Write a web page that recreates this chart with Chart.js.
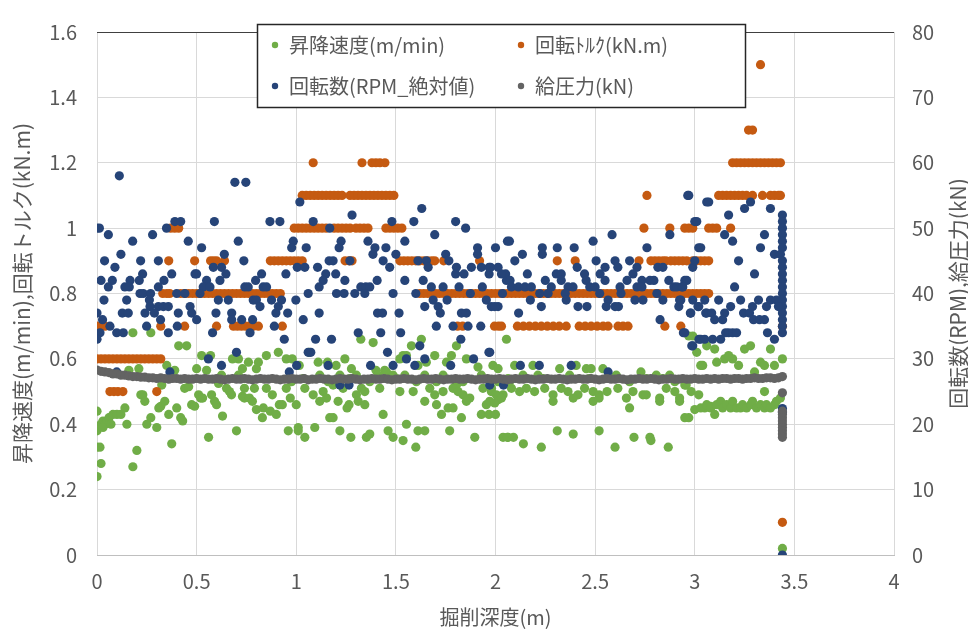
<!DOCTYPE html>
<html lang="ja">
<head>
<meta charset="utf-8">
<title>掘削深度と施工データ</title>
<script src="https://cdn.jsdelivr.net/npm/chart.js@4.4.1/dist/chart.umd.min.js"></script>
<style>
  html, body { margin: 0; padding: 0; background: #fff; }
  #wrap { width: 968px; height: 634px; position: relative; }
</style>
</head>
<body>
<div id="wrap"><canvas id="chart"></canvas></div>
<script>
const FONT = "'Noto Sans CJK JP', 'Noto Sans', sans-serif";
const TEXT = '#595959';

const seriesNames = ['昇降速度(m/min)', '回転ﾄﾙｸ(kN.m)', '回転数(RPM_絶対値)', '給圧力(kN)'];
const seriesColors = ['#70AD47', '#C55A11', '#264478', '#636363'];
const rightTitle = '回転数(RPM),給圧力(kN)';

const xTickLabels = ['0', '0.5', '1', '1.5', '2', '2.5', '3', '3.5', '4'];
const leftTickLabels = ['0', '0.2', '0.4', '0.6', '0.8', '1', '1.2', '1.4', '1.6'];
const rightTickLabels = ['0', '10', '20', '30', '40', '50', '60', '70', '80'];

// [depth (m), m/min]
const speed = [
  [0.00,0.44],[0.00,0.38],[0.00,0.33],[0.015,0.33],[0.02,0.28],[0.00,0.24],
  [0.02,0.40],[0.03,0.41],[0.04,0.40],[0.05,0.41],[0.06,0.42],[0.03,0.39],[0.07,0.40],[0.08,0.43],
  [0.10,0.43],[0.12,0.43],[0.14,0.45],[0.15,0.40],[0.16,0.565],[0.18,0.68],[0.18,0.27],[0.20,0.32],
  [0.21,0.57],[0.22,0.49],[0.23,0.49],[0.24,0.47],[0.25,0.40],[0.27,0.68],[0.27,0.42],[0.30,0.39],
  [0.31,0.45],[0.32,0.455],[0.325,0.52],[0.34,0.47],[0.35,0.58],[0.36,0.43],[0.375,0.34],[0.39,0.565],
  [0.40,0.45],[0.41,0.64],[0.42,0.42],[0.43,0.41],[0.44,0.51],[0.45,0.64],[0.46,0.515],[0.475,0.46],
  [0.49,0.455],[0.50,0.57],[0.51,0.49],[0.52,0.48],[0.525,0.61],[0.53,0.48],[0.55,0.565],[0.56,0.36],
  [0.57,0.61],[0.575,0.49],[0.59,0.47],[0.60,0.46],[0.61,0.525],[0.625,0.55],[0.63,0.425],[0.65,0.51],
  [0.665,0.50],[0.675,0.49],[0.68,0.60],[0.70,0.38],[0.71,0.60],[0.71,0.55],[0.73,0.57],[0.73,0.485],
  [0.74,0.51],[0.74,0.48],[0.76,0.59],[0.765,0.48],[0.78,0.47],[0.79,0.51],[0.80,0.57],[0.80,0.445],
  [0.81,0.59],[0.83,0.42],[0.835,0.45],[0.85,0.51],[0.85,0.61],[0.87,0.44],[0.88,0.49],[0.90,0.43],
  [0.91,0.62],[0.915,0.46],[0.93,0.46],[0.95,0.51],[0.95,0.60],[0.96,0.38],[0.97,0.48],[0.98,0.60],
  [1.00,0.46],[1.01,0.39],
  [1.015,0.58],[1.11,0.59],[1.157,0.59],[1.20,0.58],[1.244,0.60],[1.277,0.57],[1.40,0.565],[1.444,0.565],
  [1.52,0.60],[1.553,0.61],[1.611,0.58],[1.653,0.59],[1.754,0.59],[1.854,0.60],[1.912,0.575],[1.987,0.58],
  [1.065,0.62],[1.324,0.66],[1.386,0.65],[1.536,0.61],[1.578,0.64],[1.628,0.66],[1.695,0.61],[1.779,0.61],
  [1.804,0.64],[2.055,0.66],
  [0.976,0.53],[1.035,0.54],[1.118,0.55],[1.16,0.53],[1.219,0.55],[1.269,0.54],[1.302,0.55],[1.369,0.53],
  [1.411,0.55],[1.453,0.56],[1.486,0.55],[1.503,0.54],[1.545,0.55],[1.603,0.53],[1.645,0.55],[1.704,0.53],
  [1.737,0.55],[1.804,0.52],[1.837,0.53],[1.929,0.55],[2.013,0.53],[2.063,0.54],
  [1.043,0.51],[1.085,0.49],[1.135,0.50],[1.185,0.52],[1.235,0.51],[1.302,0.49],[1.327,0.51],[1.344,0.50],
  [1.419,0.51],[1.52,0.50],[1.587,0.50],[1.67,0.51],[1.695,0.49],[1.737,0.50],[1.787,0.51],[1.812,0.50],
  [1.837,0.49],[1.871,0.48],[1.937,0.51],[1.979,0.50],[2.038,0.49],
  [1.118,0.47],[1.152,0.48],[1.21,0.47],[1.265,0.46],[1.311,0.47],[1.344,0.46],[1.645,0.47],[1.704,0.46],
  [1.762,0.45],[1.854,0.47],[1.954,0.46],[1.971,0.47],[1.996,0.465],[2.013,0.475],
  [1.168,0.42],[1.185,0.42],[1.255,0.45],[1.436,0.43],[1.729,0.43],[1.787,0.45],[1.829,0.42],[1.929,0.43],
  [1.967,0.43],
  [1.01,0.38],[1.093,0.39],[1.219,0.38],[1.461,0.38],[1.553,0.40],[1.611,0.38],[1.645,0.38],[1.77,0.38],
  [1.043,0.36],[1.274,0.36],[1.352,0.36],[1.369,0.37],[1.486,0.36],[1.536,0.35],[1.896,0.36],[2.038,0.36],
  [2.063,0.36],[1.60,0.33],
  [2.99,0.67],[3.01,0.62],[3.04,0.58],
  [2.013,0.57],[2.096,0.58],[2.188,0.58],[2.322,0.57],[2.405,0.58],[2.456,0.57],[2.48,0.57],[2.539,0.57],
  [2.73,0.56],
  [2.07,0.53],[2.138,0.55],[2.213,0.55],[2.238,0.54],[2.372,0.55],[2.47,0.54],[2.556,0.54],[2.606,0.55],
  [2.673,0.53],[2.757,0.54],[2.807,0.55],[2.84,0.54],[2.874,0.55],[2.90,0.53],[2.957,0.52],
  [1.98,0.51],[2.004,0.49],[2.03,0.48],[2.08,0.51],[2.121,0.50],[2.155,0.51],[2.196,0.50],[2.247,0.51],
  [2.289,0.49],[2.33,0.51],[2.364,0.50],[2.414,0.49],[2.447,0.51],[2.49,0.50],[2.52,0.49],[2.56,0.50],
  [2.614,0.51],[2.657,0.48],[2.69,0.50],[2.74,0.49],[2.757,0.49],[2.824,0.48],[2.857,0.51],[2.90,0.50],
  [2.924,0.48],[2.982,0.50],
  [2.289,0.47],[2.39,0.48],[2.49,0.47],[2.52,0.48],[2.673,0.45],[2.824,0.47],[2.924,0.47],
  [2.00,0.43],[2.97,0.42],[3.00,0.445],[3.05,0.45],[3.08,0.455],
  [2.06,0.36],[2.09,0.36],[2.31,0.38],[2.39,0.37],[2.52,0.38],[2.695,0.36],[2.775,0.36],
  [2.14,0.34],[2.23,0.33],[2.60,0.33],[2.867,0.33],[2.78,0.35],
  [2.97,0.67],[3.06,0.64],[3.10,0.63],[3.25,0.63],[3.28,0.64],[3.38,0.63],
  [3.03,0.58],[3.11,0.59],[3.15,0.60],[3.17,0.61],[3.19,0.60],[3.22,0.58],[3.30,0.56],[3.33,0.59],
  [3.35,0.58],[3.40,0.58],[3.44,0.60],
  [3.35,0.50],[2.95,0.52],[3.02,0.49],
  [3.03,0.45],[3.06,0.46],[3.08,0.45],[3.11,0.46],[3.13,0.47],[3.14,0.45],[3.16,0.46],[3.18,0.45],
  [3.19,0.47],[3.21,0.45],[3.23,0.45],[3.24,0.46],[3.26,0.45],[3.28,0.46],[3.29,0.47],[3.31,0.45],
  [3.33,0.46],[3.35,0.45],[3.36,0.46],[3.38,0.45],[3.40,0.46],[3.41,0.47],[3.43,0.48],
  [2.95,0.42],[3.10,0.43],[3.44,0.02]
];

// [depth (m), kN.m]
const torque = [
  [0.00,0.6],[0.02,0.6],[0.04,0.6],[0.06,0.6],[0.08,0.6],[0.10,0.6],[0.12,0.6],[0.14,0.6],[0.16,0.6],
  [0.18,0.6],[0.20,0.6],[0.22,0.6],[0.24,0.6],[0.26,0.6],[0.28,0.6],[0.30,0.6],[0.32,0.6],
  [0.00,0.7],[0.02,0.7],[0.04,0.7],[0.32,0.7],[0.44,0.7],[0.60,0.7],[0.685,0.7],[0.705,0.7],[0.725,0.7],
  [0.745,0.7],[0.765,0.7],[0.785,0.7],[0.81,0.7],[0.93,0.7],
  [0.065,0.5],[0.085,0.5],[0.105,0.5],[0.13,0.5],[0.30,0.5],
  [0.33,0.8],[0.35,0.8],[0.365,0.8],[0.42,0.8],[0.44,0.8],[0.46,0.8],[0.48,0.8],[0.50,0.8],[0.52,0.8],
  [0.54,0.8],[0.56,0.8],[0.58,0.8],[0.60,0.8],[0.62,0.8],[0.64,0.8],[0.66,0.8],[0.68,0.8],[0.70,0.8],
  [0.72,0.8],[0.74,0.8],[0.76,0.8],[0.78,0.8],[0.80,0.8],[0.82,0.8],[0.84,0.8],[0.86,0.8],[0.88,0.8],
  [0.90,0.8],[0.92,0.8],
  [0.36,0.9],[0.49,0.9],[0.57,0.9],[0.585,0.9],[0.60,0.9],[0.64,0.9],[0.87,0.9],[0.89,0.9],[0.91,0.9],
  [0.93,0.9],[0.95,0.9],[0.97,0.9],[0.99,0.9],[1.01,0.9],[1.03,0.9],[1.245,0.9],[1.265,0.9],[1.28,0.9],
  [1.52,0.9],[1.54,0.9],[1.56,0.9],[1.58,0.9],[1.60,0.9],[1.62,0.9],[1.64,0.9],[1.66,0.9],[1.68,0.9],
  [1.695,0.9],[1.74,0.9],[1.92,0.9],[2.31,0.9],[2.40,0.9],[2.72,0.9],[2.78,0.9],[2.80,0.9],[2.82,0.9],
  [2.84,0.9],[2.855,0.9],[2.88,0.9],[2.90,0.9],[2.92,0.9],[2.94,0.9],[2.96,0.9],[2.99,0.9],[3.01,0.9],
  [3.03,0.9],[3.05,0.9],[3.07,0.9],
  [0.37,1.0],[0.39,1.0],[0.41,1.0],[0.99,1.0],[1.01,1.0],[1.03,1.0],[1.05,1.0],[1.07,1.0],[1.09,1.0],
  [1.11,1.0],[1.13,1.0],[1.15,1.0],[1.19,1.0],[1.21,1.0],[1.23,1.0],[1.25,1.0],[1.27,1.0],[1.30,1.0],
  [1.32,1.0],[1.34,1.0],[1.36,1.0],[1.45,1.0],[1.47,1.0],[1.49,1.0],[1.51,1.0],[1.53,1.0],[2.745,1.0],
  [2.875,1.0],[2.95,1.0],[2.97,1.0],[2.99,1.0],[3.07,1.0],[3.09,1.0],[3.11,1.0],[3.18,1.0],
  [1.03,1.1],[1.05,1.1],[1.07,1.1],[1.09,1.1],[1.11,1.1],[1.13,1.1],[1.15,1.1],[1.17,1.1],[1.19,1.1],
  [1.21,1.1],[1.23,1.1],[1.27,1.1],[1.29,1.1],[1.31,1.1],[1.33,1.1],[1.35,1.1],[1.37,1.1],[1.39,1.1],
  [1.41,1.1],[1.43,1.1],[1.45,1.1],[1.47,1.1],[1.49,1.1],[2.76,1.1],[3.12,1.1],[3.14,1.1],[3.16,1.1],
  [3.18,1.1],[3.20,1.1],[3.22,1.1],[3.24,1.1],[3.26,1.1],[3.29,1.1],[3.34,1.1],[3.38,1.1],[3.40,1.1],
  [3.42,1.1],[3.43,1.1],
  [1.085,1.2],[1.33,1.2],[1.38,1.2],[1.40,1.2],[1.42,1.2],[1.445,1.2],[3.19,1.2],[3.21,1.2],[3.23,1.2],
  [3.25,1.2],[3.27,1.2],[3.29,1.2],[3.31,1.2],[3.33,1.2],[3.35,1.2],[3.37,1.2],[3.39,1.2],[3.41,1.2],
  [3.43,1.2],
  [3.27,1.3],[3.29,1.3],[3.33,1.5],
  [1.62,0.8],[1.64,0.8],[1.66,0.8],[1.68,0.8],[1.70,0.8],[1.72,0.8],[1.74,0.8],[1.76,0.8],[1.78,0.8],
  [1.80,0.8],[1.82,0.8],[1.84,0.8],[1.86,0.8],[1.88,0.8],[1.90,0.8],[1.92,0.8],[1.94,0.8],[1.96,0.8],
  [1.98,0.8],[2.00,0.8],[2.02,0.8],[2.04,0.8],[2.06,0.8],[2.08,0.8],[2.10,0.8],[2.12,0.8],[2.14,0.8],
  [2.16,0.8],[2.18,0.8],[2.20,0.8],[2.22,0.8],[2.24,0.8],[2.26,0.8],[2.28,0.8],[2.30,0.8],[2.32,0.8],
  [2.34,0.8],[2.36,0.8],[2.38,0.8],[2.40,0.8],[2.42,0.8],[2.44,0.8],[2.46,0.8],[2.48,0.8],[2.50,0.8],
  [2.52,0.8],[2.54,0.8],[2.56,0.8],[2.58,0.8],[2.60,0.8],[2.62,0.8],[2.64,0.8],[2.66,0.8],[2.68,0.8],
  [2.70,0.8],[2.72,0.8],[2.74,0.8],[2.76,0.8],[2.78,0.8],[2.80,0.8],[2.82,0.8],[2.84,0.8],[2.86,0.8],
  [2.88,0.8],[2.90,0.8],[2.92,0.8],[2.95,0.8],[2.97,0.8],[2.99,0.8],[3.01,0.8],[3.03,0.8],[3.05,0.8],
  [3.07,0.8],
  [1.81,0.7],[1.835,0.7],[1.995,0.7],[2.015,0.7],[2.03,0.7],[2.11,0.7],[2.14,0.7],[2.17,0.7],[2.20,0.7],
  [2.23,0.7],[2.26,0.7],[2.29,0.7],[2.32,0.7],[2.355,0.7],[2.42,0.7],[2.45,0.7],[2.48,0.7],[2.51,0.7],
  [2.54,0.7],[2.565,0.7],[2.615,0.7],[2.64,0.7],[2.665,0.7],[2.85,0.7],[2.93,0.7],[3.44,0.7],
  [3.44,0.1]
];

// [depth (m), RPM]
const rpm = [
  [0.112,58],[0.692,57],[0.747,57],[0.0,50],[0.012,50],[0.057,49],[0.391,51],[0.42,51],[0.349,50],
  [0.589,51],[0.868,51],[0.918,51],[1.018,54],[0.179,48],[0.279,49],[0.458,48],[0.525,47],[0.709,48],
  [0.985,48],[0.977,47],[0.639,46],[0.12,46],
  [0.038,45],[0.219,45],[0.308,45],[0.737,45],
  [0.09,44],[0.584,44],[0.625,44],[1.005,44],[1.043,44],
  [0.229,43],[0.375,43],[0.492,43],[0.50,43],[0.647,43],[0.826,43],[0.948,43],
  [0.02,42],[0.077,42],[0.166,42],[0.212,42],[0.336,42],[0.55,42],[0.617,42],[0.796,42],
  [0.057,41],[0.14,41],[0.162,41],[0.308,41],[0.533,41],[0.567,41],[0.742,41],[0.759,41],[0.834,41],[0.851,41],
  [0.216,40],[0.232,40],[0.269,40],[0.40,40],[0.441,40],[0.517,40],[1.06,40],
  [0.035,39],[0.149,39],[0.263,39],[0.609,39],[0.659,39],[0.784,39],[0.80,39],[0.876,39],[0.926,39],[0.998,39],
  [0.266,38],[0.308,38],[0.333,38],[0.358,38],[0.467,38],[0.818,38],[0.91,38],
  [0.0,37],[0.127,37],[0.157,37],[0.241,37],[0.288,37],[0.408,37],[0.475,37],[0.597,37],[0.676,37],[0.898,37],[0.957,37],
  [0.028,36],[0.319,36],[0.50,36],[0.676,36],[0.726,36],[0.781,36],
  [0.065,35],[0.249,35],[0.403,35],[0.89,35],
  [0.015,34],[0.099,34],[0.132,34],[0.358,34],[0.58,34],[0.768,34],
  [0.0,33],[0.94,33],[1.06,31],[0.70,31],[0.559,30],[0.625,29],[1.002,29],[0.099,28],[0.366,28],[0.965,28],
  [1.63,53],[1.80,51],[1.085,51],[1.48,51],[1.59,51],[1.85,50],[1.28,52],[1.168,50],[1.695,49],
  [1.225,48],[1.36,48],[1.545,48],[2.06,48],
  [1.05,47],[1.215,47],[1.395,47],[1.45,47],[1.91,47],[2.00,47],
  [1.385,46],[1.50,46],[1.75,46],[1.91,46],
  [1.165,45],[1.185,45],[1.269,45],[1.436,45],[1.611,45],[1.653,45],[1.766,45],
  [1.107,44],[1.469,44],[1.662,44],[1.804,44],[1.879,44],[1.929,44],[1.968,44],[2.013,44],
  [1.148,43],[1.198,43],[1.80,43],[1.842,43],[1.968,43],[2.051,43],
  [1.135,42],[1.244,42],[1.406,42],[1.545,42],[1.637,42],[2.055,42],
  [1.115,41],[1.324,41],[1.349,41],[1.369,41],[1.678,41],[1.737,41],[1.817,41],[1.934,41],
  [1.202,40],[1.24,40],[1.294,40],[1.344,40],[1.486,40],[1.60,40],[1.874,40],[2.035,40],
  [1.687,39],[1.757,39],[1.954,39],
  [1.645,38],[1.712,38],[1.979,38],[2.013,38],
  [1.115,37],[1.408,37],[1.433,37],[1.516,37],[1.723,37],[1.829,37],[1.854,37],
  [1.035,36],[1.703,35],[1.787,35],[1.862,35],[1.926,35],
  [1.311,34],[1.424,34],[1.524,34],[1.097,33],[1.177,33],[1.826,33],[1.62,32],
  [1.073,31],[1.458,31],[1.967,31],[1.553,30],[1.645,30],[1.89,30],
  [1.16,29],[1.373,29],[1.486,29],[1.595,29],[1.775,29],[1.219,26],[1.265,26],[2.04,26],
  [2.965,55],[3.06,54],[3.0,51],[2.585,49],[2.875,49],[2.07,48],[2.49,48],
  [2.235,47],[2.31,47],[2.395,47],[2.76,47],[3.02,47],[2.135,46],[2.235,46],
  [2.097,45],[2.505,45],[2.60,45],[2.673,45],
  [1.975,44],[2.41,44],[2.55,44],[2.614,44],[2.71,44],[2.815,44],[2.84,44],[2.99,44],
  [2.03,43],[2.16,43],[2.305,43],[2.33,43],[2.447,43],[2.525,43],[2.69,43],
  [2.073,42],[2.25,42],[2.33,42],[2.455,42],[2.55,42],[2.66,42],[2.735,42],[2.775,42],[2.795,42],[2.87,42],[2.95,42],
  [2.08,41],[2.115,41],[2.148,41],[2.18,41],[2.28,41],[2.364,41],[2.389,41],[2.473,41],[2.50,41],[2.625,41],
  [2.71,41],[2.735,41],[2.895,41],[2.91,41],[2.935,41],
  [2.222,40],[2.264,40],[2.35,40],[2.523,40],[2.63,40],[2.81,40],
  [2.175,39],[2.355,39],[2.565,39],[2.70,39],[2.74,39],[2.84,39],[2.924,39],[2.99,39],
  [1.996,38],[2.23,38],[2.414,38],[2.459,38],[2.556,38],[2.60,38],[2.617,38],[2.92,38],[3.016,38],
  [2.116,37],[2.978,37],[3.06,37],[2.826,36],[2.943,34],[3.021,33],[2.985,32],[1.971,31],
  [2.125,29],[2.22,29],[2.38,29],[2.565,28],[1.971,26],
  [2.97,55],[3.07,54],[3.25,53],[3.28,54],[3.38,53],[3.44,52],[3.17,52],[3.01,51],[3.44,51],[3.44,50],
  [3.44,49],[3.15,49],[3.19,48],[3.35,49],[3.44,48],[3.03,47],[3.33,47],[3.44,47],[3.40,46],[3.43,46],
  [3.44,45],[3.44,44],[3.44,43],[3.44,42],[3.44,41],[3.44,40],[3.44,39],[3.44,38],[3.44,37],[3.44,36],
  [3.44,35],[3.44,34],
  [3.00,45],[3.22,45],[3.30,43],[2.96,42],[2.94,41],[3.20,41],
  [2.93,39],[3.05,39],[3.12,39],[3.23,39],[3.32,39],[3.38,39],[3.41,39],
  [3.02,38],[3.18,38],[3.29,38],[3.36,38],[3.42,38],
  [2.98,37],[3.055,37],[3.085,37],[3.15,37],[3.245,37],[3.275,37],
  [3.10,36],[3.14,36],[3.295,36],[3.325,36],[3.35,36],
  [2.95,34],[3.365,34],[3.155,34],[3.17,34],[3.19,34],[3.21,34],
  [3.40,33],[3.03,33],[3.05,33],[3.09,33],[3.13,33],[2.99,32],
  [3.44,22.4],[3.44,21.8],[3.44,0]
];

// [depth (m), kN]
const pressure = [
  [0.00,28.3],[0.02,28.1],[0.04,28.0],[0.06,27.9],[0.08,27.7],[0.10,27.7],[0.12,27.5],[0.14,27.5],
  [0.16,27.4],[0.18,27.3],[0.20,27.3],[0.22,27.2],[0.24,27.2],[0.26,27.1],[0.28,27.1],[0.30,27.0],
  [0.32,27.1],[0.34,27.0],[0.36,26.9],[0.38,27.0],[0.40,27.0],[0.42,26.9],[0.44,27.0],[0.46,26.9],
  [0.48,26.9],[0.50,27.0],[0.52,26.9],[0.54,27.0],[0.56,26.9],[0.58,26.9],[0.60,27.0],[0.62,26.9],
  [0.64,26.8],[0.66,26.9],[0.68,27.0],[0.70,26.9],[0.72,26.9],[0.74,27.0],[0.76,26.9],[0.78,26.8],
  [0.80,26.9],[0.82,27.0],[0.84,26.9],[0.86,26.9],[0.88,27.0],[0.90,26.9],[0.92,26.8],[0.94,26.9],
  [0.96,26.9],[0.98,27.0],[1.00,26.9],[1.02,26.9],[1.04,27.0],[1.06,26.8],[1.08,26.9],[1.10,26.9],
  [1.12,27.0],[1.14,26.9],[1.16,26.9],[1.18,26.8],[1.20,26.9],[1.22,27.0],[1.24,26.9],[1.26,26.9],
  [1.28,27.0],[1.30,26.9],[1.32,26.8],[1.34,26.9],[1.36,26.9],[1.38,27.0],[1.40,26.9],[1.42,26.9],
  [1.44,27.0],[1.46,26.9],[1.48,26.8],[1.50,26.9],[1.52,26.9],[1.54,27.0],[1.56,26.9],[1.58,26.9],
  [1.60,26.8],[1.62,26.9],[1.64,27.0],[1.66,26.9],[1.68,26.9],[1.70,27.0],[1.72,26.9],[1.74,26.8],
  [1.76,26.9],[1.78,26.9],[1.80,27.0],[1.82,26.9],[1.84,26.9],[1.86,27.0],[1.88,26.9],[1.90,26.8],
  [1.92,26.9],[1.94,26.9],[1.96,27.0],[1.98,26.9],[2.00,26.9],[2.02,27.0],[2.04,26.9],[2.06,26.8],
  [2.08,26.9],[2.10,27.0],[2.12,26.9],[2.14,26.9],[2.16,27.0],[2.18,26.9],[2.20,26.8],[2.22,26.9],
  [2.24,26.9],[2.26,27.0],[2.28,26.9],[2.30,26.9],[2.32,27.0],[2.34,26.9],[2.36,26.8],[2.38,26.9],
  [2.40,26.9],[2.42,27.0],[2.44,26.9],[2.46,26.9],[2.48,27.0],[2.50,26.9],[2.52,26.8],[2.54,26.9],
  [2.56,27.0],[2.58,26.9],[2.60,26.9],[2.62,27.0],[2.64,26.9],[2.66,26.8],[2.68,26.9],[2.70,26.9],
  [2.72,27.0],[2.74,26.9],[2.76,26.9],[2.78,27.0],[2.80,26.9],[2.82,26.8],[2.84,26.9],[2.86,26.9],
  [2.88,27.0],[2.90,26.9],[2.92,26.9],[2.94,27.0],[2.96,26.9],[2.98,26.9],[3.00,27.0],[3.02,26.9],
  [3.04,26.9],[3.06,27.0],[3.08,26.9],[3.10,27.0],[3.12,26.9],[3.14,27.0],[3.16,27.0],[3.18,26.9],
  [3.20,27.0],[3.22,27.0],[3.24,26.9],[3.26,27.0],[3.28,27.0],[3.30,27.1],[3.32,27.0],[3.34,27.0],
  [3.36,27.1],[3.38,27.1],[3.40,27.0],[3.42,27.1],[3.44,27.3],
  [3.44,24.8],[3.44,22.0],[3.44,21.5],[3.44,21.0],[3.44,20.5],[3.44,20.0],[3.44,19.5],[3.44,19.0],
  [3.44,18.5],[3.44,18.0]
];

const toPoints = arr => arr.map(p => ({ x: p[0], y: p[1] }));

// legend inside the plot (two columns) and the secondary axis title, rotated like the left one
const overlay = {
  id: 'overlay',
  afterDraw(chart) {
    const ctx = chart.ctx;
    const box = { x: 257, y: 24, w: 488, h: 83 };
    const items = [
      { x: 275, y: 45 }, { x: 521, y: 45 },
      { x: 275, y: 86 }, { x: 521, y: 86 }
    ];
    ctx.save();
    ctx.fillStyle = '#fff';
    ctx.fillRect(box.x, box.y, box.w, box.h);
    ctx.strokeStyle = '#262626';
    ctx.lineWidth = 1.5;
    ctx.strokeRect(box.x + 0.5, box.y + 0.5, box.w, box.h);
    ctx.font = '20px ' + FONT;
    ctx.textBaseline = 'middle';
    ctx.textAlign = 'left';
    items.forEach((it, i) => {
      ctx.fillStyle = seriesColors[i];
      ctx.beginPath();
      ctx.arc(it.x, it.y, 3.2, 0, Math.PI * 2);
      ctx.fill();
      ctx.fillStyle = TEXT;
      ctx.fillText(seriesNames[i], it.x + 14, it.y);
    });

    const area = chart.chartArea;
    ctx.translate(958, (area.top + area.bottom) / 2);
    ctx.rotate(-Math.PI / 2);
    ctx.textAlign = 'center';
    ctx.font = '21px ' + FONT;
    ctx.fillText(rightTitle, 0, 0);
    ctx.restore();
  }
};

const ds = (data, i, axis, order) => ({
  label: seriesNames[i],
  data: toPoints(data),
  yAxisID: axis,
  backgroundColor: seriesColors[i],
  borderWidth: 0,
  pointRadius: 4.6,
  pointHoverRadius: 4.6,
  order: order
});

new Chart(document.getElementById('chart'), {
  type: 'scatter',
  data: {
    datasets: [
      ds(speed, 0, 'y', 3),
      ds(torque, 1, 'y', 2),
      ds(rpm, 2, 'y1', 1),
      ds(pressure, 3, 'y1', 0)
    ]
  },
  options: {
    responsive: true,
    maintainAspectRatio: false,
    animation: false,
    events: [],
    layout: { padding: { top: 20, left: 0, right: 0, bottom: 0 } },
    plugins: { legend: { display: false }, tooltip: { enabled: false } },
    scales: {
      x: {
        type: 'linear',
        min: 0, max: 4,
        afterFit: s => { s.height = 79; },
        ticks: {
          stepSize: 0.5,
          padding: 14,
          color: TEXT,
          font: { family: FONT, size: 20 },
          callback: (v, i) => xTickLabels[i]
        },
        grid: { color: '#d9d9d9', drawTicks: false },
        border: { color: '#bfbfbf' },
        title: {
          display: true,
          text: '掘削深度(m)',
          color: TEXT,
          font: { family: FONT, size: 20 },
          padding: { top: 0, bottom: 5 }
        }
      },
      y: {
        position: 'left',
        min: 0, max: 1.6,
        afterFit: s => { s.width = 97; },
        ticks: {
          stepSize: 0.2,
          padding: 20,
          color: TEXT,
          font: { family: FONT, size: 20 },
          callback: (v, i) => leftTickLabels[i]
        },
        grid: {
          drawTicks: false,
          color: c => (c.index === 8 ? '#404040' : '#d9d9d9')
        },
        border: { display: false },
        title: {
          display: true,
          text: '昇降速度(m/min),回転トルク(kN.m)',
          color: TEXT,
          font: { family: FONT, size: 21 },
          padding: { top: 9, bottom: 0 }
        }
      },
      y1: {
        position: 'right',
        min: 0, max: 80,
        afterFit: s => { s.width = 74; },
        ticks: {
          stepSize: 10,
          padding: 18,
          color: TEXT,
          font: { family: FONT, size: 20 },
          callback: (v, i) => rightTickLabels[i]
        },
        grid: { drawOnChartArea: false, drawTicks: false },
        border: { display: false }
      }
    }
  },
  plugins: [overlay]
});
</script>
</body>
</html>
